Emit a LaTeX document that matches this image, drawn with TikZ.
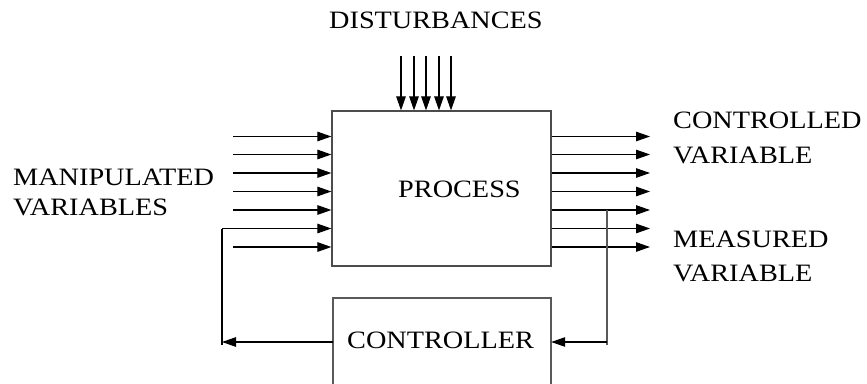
\documentclass[tikz,border=0pt]{standalone}
\usepackage{fontspec}
\setmainfont{Liberation Serif}[FakeStretch=1.13]
\usetikzlibrary{arrows.meta}
\tikzset{
  box/.style={draw=black!70, line width=1.2pt, rectangle, inner sep=0pt},
  arr/.style={draw=black, line width=1.1pt, -{Triangle[length=14pt,width=9.5pt]}},
  ln/.style={draw=black, line width=1.1pt},
  gln/.style={draw=black!65, line width=1.2pt},
  lbl/.style={anchor=base west, inner sep=0pt, font=\fontsize{25}{25}\selectfont},
}
\begin{document}
\begin{tikzpicture}[x=1pt,y=-1pt]
\useasboundingbox (0,0) rectangle (867,383);
% boxes
\node[box, minimum width=219pt, minimum height=155pt] (proc) at (441.5,188.5) {};
\draw[gln] (333,400) -- (333,298) -- (551,298) -- (551,400);
\node[inner sep=0pt, minimum width=218pt, minimum height=102pt] (ctrl) at (442,349) {};
% labels
\node[lbl] (tdist) at (329,28) {DISTURBANCES};
\node[lbl] (tman1) at (13,185) {MANIPULATED};
\node[lbl] (tman2) at (13,215) {VARIABLES};
\node[lbl] (tproc) at (398,197) {PROCESS};
\node[lbl] (tcv1) at (673,128) {CONTROLLED};
\node[lbl] (tcv2) at (673,163) {VARIABLE};
\node[lbl] (tmv1) at (673,247) {MEASURED};
\node[lbl] (tmv2) at (673,281) {VARIABLE};
\node[lbl] (tctrl) at (347,348) {CONTROLLER};
% disturbance arrows
\foreach \i/\x in {1/401,2/414,3/426,4/439,5/451}{
  \coordinate (d\i) at (\x,56);
  \draw[arr] (d\i) -- (d\i |- proc.north);
}
% input and output arrows
\foreach \i/\y in {1/136.5,2/154.5,3/173,4/191.5,5/210,6/228.5,7/247}{
  \coordinate (in\i) at (233,\y);
  \coordinate (out\i) at (650,\y);
  \draw[arr] (proc.east |- out\i) -- (out\i);
}
\foreach \i in {1,2,3,4,5,7}{
  \draw[arr] (in\i) -- (in\i -| proc.west);
}
% feedback
\coordinate (fbl) at (222,342);
\coordinate (fbr) at (607,342);
\coordinate (mtop) at (607,210);
\draw[arr] (ctrl.west |- fbl) -- (fbl);
\draw[ln] (222,345) -- (222,228.5);
\draw[arr] (222,228.5) -- (in6 -| proc.west);
\draw[gln] (mtop) -- (607,345);
\draw[arr] (fbr) -- (ctrl.east |- fbr);
\end{tikzpicture}
\end{document}
